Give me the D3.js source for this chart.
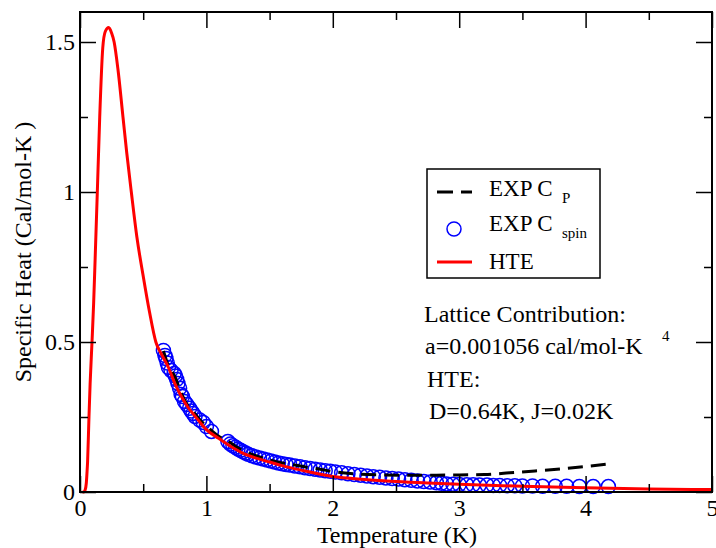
<!DOCTYPE html>
<html>
<head>
<meta charset="utf-8">
<script src="https://cdn.jsdelivr.net/npm/d3@7"></script>
<style>
  html, body { margin: 0; padding: 0; background: #fff; }
  svg { display: block; }
  svg text { font-family: "Liberation Serif", "Times New Roman", Times, "DejaVu Serif", serif; fill: #000; }
</style>
</head>
<body>
<svg id="chart" width="716" height="548"></svg>
<script>
// ---------------- DATA ----------------
const xTickValues = [0, 1, 2, 3, 4, 5];
const xTickLabels = ["0", "1", "2", "3", "4", "5"];
const xMinorTicks = [0.5, 1.5, 2.5, 3.5, 4.5];
const yTickValues = [0, 0.5, 1, 1.5];
const yTickLabels = ["0", "0.5", "1", "1.5"];
const yMinorTicks = [0.25, 0.75, 1.25];

// HTE fit curve (Temperature K, Specific heat)
const hteT = [0.02, 0.03, 0.04, 0.05, 0.055, 0.06, 0.071, 0.08, 0.095, 0.108, 0.12, 0.137, 0.156, 0.18, 0.2, 0.227, 0.25, 0.27, 0.3, 0.34, 0.37, 0.406, 0.45, 0.5, 0.55, 0.6, 0.65, 0.7, 0.75, 0.8, 0.85, 0.9, 0.95, 1.0, 1.1, 1.2, 1.3, 1.4, 1.5, 1.6, 1.75, 2.0, 2.25, 2.5, 2.75, 3.0, 3.5, 4.0, 4.5, 5.0];
const hteC = [0.0, 0.0, 0.006, 0.03, 0.062, 0.1, 0.25, 0.36, 0.5, 0.63, 0.78, 1.0, 1.25, 1.48, 1.535, 1.548, 1.53, 1.5, 1.41, 1.25, 1.13, 1.0, 0.85, 0.72, 0.6, 0.5, 0.455, 0.415, 0.362, 0.32, 0.285, 0.258, 0.232, 0.208, 0.178, 0.15, 0.127, 0.112, 0.1, 0.088, 0.073, 0.052, 0.042, 0.035, 0.03, 0.026, 0.019, 0.014, 0.01, 0.008];

// EXP C_spin (open circles)
const spinT = [0.66, 0.672, 0.68, 0.69, 0.70, 0.72, 0.745, 0.755, 0.765, 0.775, 0.788, 0.80, 0.81, 0.827, 0.845, 0.867, 0.88, 0.894, 0.91, 0.947, 0.975, 1.0, 1.04,
  1.17, 1.19, 1.21, 1.23, 1.25, 1.27, 1.29, 1.31, 1.33, 1.36, 1.39, 1.42, 1.45, 1.48, 1.51, 1.54, 1.57, 1.60, 1.63, 1.66, 1.70, 1.74, 1.78, 1.82, 1.86, 1.90, 1.94, 1.98, 2.02, 2.07, 2.12, 2.17, 2.22, 2.27, 2.32, 2.37, 2.42, 2.47, 2.52, 2.57, 2.62, 2.67, 2.72, 2.77, 2.82, 2.86, 2.90, 2.95, 3.00, 3.06, 3.11, 3.16, 3.22, 3.27, 3.32, 3.38, 3.44, 3.50, 3.58, 3.66, 3.76, 3.85, 3.95, 4.06, 4.18];
const spinC = [0.472, 0.455, 0.445, 0.43, 0.415, 0.405, 0.395, 0.387, 0.375, 0.362, 0.346, 0.325, 0.318, 0.302, 0.292, 0.279, 0.27, 0.262, 0.252, 0.24, 0.232, 0.218, 0.202,
  0.168, 0.160, 0.154, 0.149, 0.143, 0.139, 0.134, 0.130, 0.126, 0.121, 0.117, 0.113, 0.110, 0.107, 0.103, 0.100, 0.097, 0.094, 0.092, 0.090, 0.087, 0.084, 0.081, 0.078, 0.076, 0.073, 0.071, 0.069, 0.067, 0.064, 0.061, 0.058, 0.056, 0.053, 0.051, 0.049, 0.047, 0.045, 0.043, 0.041, 0.039, 0.037, 0.035, 0.033, 0.031, 0.029, 0.027, 0.026, 0.025, 0.024, 0.024, 0.023, 0.023, 0.022, 0.022, 0.021, 0.021, 0.020, 0.020, 0.019, 0.019, 0.019, 0.018, 0.018, 0.018];

// EXP C_P (dashed)
const cpT = [0.66, 0.7, 0.75, 0.8, 0.85, 0.9, 0.95, 1.0, 1.04, 1.1, 1.17, 1.25, 1.33, 1.42, 1.5, 1.6, 1.7, 1.8, 1.9, 2.0, 2.2, 2.4, 2.6, 2.8, 3.0, 3.2, 3.4, 3.6, 3.8, 4.0, 4.2];
const cpC = [0.47, 0.42, 0.385, 0.33, 0.29, 0.265, 0.24, 0.22, 0.205, 0.185, 0.17, 0.147, 0.13, 0.117, 0.107, 0.097, 0.09, 0.082, 0.076, 0.068, 0.06, 0.057, 0.056, 0.056, 0.057, 0.058, 0.064, 0.07, 0.077, 0.085, 0.094];

// ---------------- CHART ----------------
const FONT = '"Liberation Serif", "Times New Roman", Times, "DejaVu Serif", serif';
const svg = d3.select("#chart");
const x = d3.scaleLinear().domain([0, 5]).range([80, 712]);
const y = d3.scaleLinear().domain([0, 1.6]).range([492, 12]);

const toPts = (xs, ys) => xs.map((t, i) => [t, ys[i]]);
const hte = toPts(hteT, hteC);
const spin = toPts(spinT, spinC);
const cp = toPts(cpT, cpC);

const line = d3.line().x(d => x(d[0])).y(d => y(d[1])).curve(d3.curveMonotoneX);

// circles
svg.append("g").selectAll("circle").data(spin).join("circle")
  .attr("cx", d => x(d[0])).attr("cy", d => y(d[1])).attr("r", 7)
  .attr("fill", "none").attr("stroke", "#0000ff").attr("stroke-width", 1.5);

// dashed Cp
svg.append("path").datum(cp).attr("d", line)
  .attr("fill", "none").attr("stroke", "#000").attr("stroke-width", 3)
  .attr("stroke-dasharray", "15,8");

// HTE red
svg.append("path").datum(hte).attr("d", line)
  .attr("fill", "none").attr("stroke", "#ff0000").attr("stroke-width", 3);

// axes
function styleAxis(g) {
  g.attr("font-family", FONT);
  g.select(".domain").remove();
  g.selectAll(".tick line").attr("stroke", "#000").attr("stroke-width", 1.5);
  g.selectAll(".tick text").attr("font-size", 24);
}
const xFmt = d => xTickLabels[xTickValues.indexOf(d)];
const yFmt = d => yTickLabels[yTickValues.indexOf(d)];

svg.append("g").attr("transform", "translate(0,492)")
  .call(d3.axisBottom(x).tickValues(xTickValues).tickFormat(xFmt).tickSize(-16).tickPadding(7)).call(styleAxis);
svg.append("g").attr("transform", "translate(0,492)")
  .call(d3.axisBottom(x).tickValues(xMinorTicks).tickFormat("").tickSize(-8)).call(styleAxis);
svg.append("g").attr("transform", "translate(0,12)")
  .call(d3.axisTop(x).tickValues(xTickValues).tickFormat("").tickSize(-16)).call(styleAxis);
svg.append("g").attr("transform", "translate(0,12)")
  .call(d3.axisTop(x).tickValues(xMinorTicks).tickFormat("").tickSize(-8)).call(styleAxis);

svg.append("g").attr("transform", "translate(80,0)")
  .call(d3.axisLeft(y).tickValues(yTickValues).tickFormat(yFmt).tickSize(-16).tickPadding(5)).call(styleAxis);
svg.append("g").attr("transform", "translate(80,0)")
  .call(d3.axisLeft(y).tickValues(yMinorTicks).tickFormat("").tickSize(-8)).call(styleAxis);
svg.append("g").attr("transform", "translate(712,0)")
  .call(d3.axisRight(y).tickValues(yTickValues).tickFormat("").tickSize(-16)).call(styleAxis);
svg.append("g").attr("transform", "translate(712,0)")
  .call(d3.axisRight(y).tickValues(yMinorTicks).tickFormat("").tickSize(-8)).call(styleAxis);

// frame
svg.append("rect").attr("x", 80).attr("y", 12).attr("width", 632).attr("height", 480)
  .attr("fill", "none").attr("stroke", "#000").attr("stroke-width", 2);

// axis titles
svg.append("text").attr("x", 397).attr("y", 543).attr("text-anchor", "middle")
  .attr("font-size", 24).text("Temperature (K)");
svg.append("text").attr("transform", "translate(31,252) rotate(-90)").attr("text-anchor", "middle")
  .attr("font-size", 24).text("Specific Heat (Cal/mol-K )");

// legend
const lg = svg.append("g");
lg.append("rect").attr("x", 427).attr("y", 169).attr("width", 173).attr("height", 109)
  .attr("fill", "#fff").attr("stroke", "#000").attr("stroke-width", 1.5);
lg.append("line").attr("x1", 437).attr("x2", 472).attr("y1", 192).attr("y2", 192)
  .attr("stroke", "#000").attr("stroke-width", 3).attr("stroke-dasharray", "16,8");
lg.append("circle").attr("cx", 454).attr("cy", 229).attr("r", 7)
  .attr("fill", "none").attr("stroke", "#0000ff").attr("stroke-width", 1.5);
lg.append("line").attr("x1", 437).attr("x2", 472).attr("y1", 262).attr("y2", 262)
  .attr("stroke", "#ff0000").attr("stroke-width", 3);

const t1 = lg.append("text").attr("x", 489).attr("y", 196).attr("font-size", 23);
t1.append("tspan").text("EXP C");
t1.append("tspan").attr("x", 562).attr("dy", 7).attr("font-size", 15).text("P");
const t2 = lg.append("text").attr("x", 489).attr("y", 231).attr("font-size", 23);
t2.append("tspan").text("EXP C");
t2.append("tspan").attr("x", 562).attr("dy", 7).attr("font-size", 15).text("spin");
lg.append("text").attr("x", 489).attr("y", 269).attr("font-size", 23).text("HTE");

// annotations
svg.append("text").attr("x", 424).attr("y", 322).attr("font-size", 24).text("Lattice Contribution:");
svg.append("text").attr("x", 425).attr("y", 354).attr("font-size", 24).text("a=0.001056 cal/mol-K");
svg.append("text").attr("x", 662).attr("y", 341).attr("font-size", 15).text("4");
svg.append("text").attr("x", 427).attr("y", 387).attr("font-size", 24).text("HTE:");
svg.append("text").attr("x", 429).attr("y", 419).attr("font-size", 24).text("D=0.64K, J=0.02K");
</script>
</body>
</html>
